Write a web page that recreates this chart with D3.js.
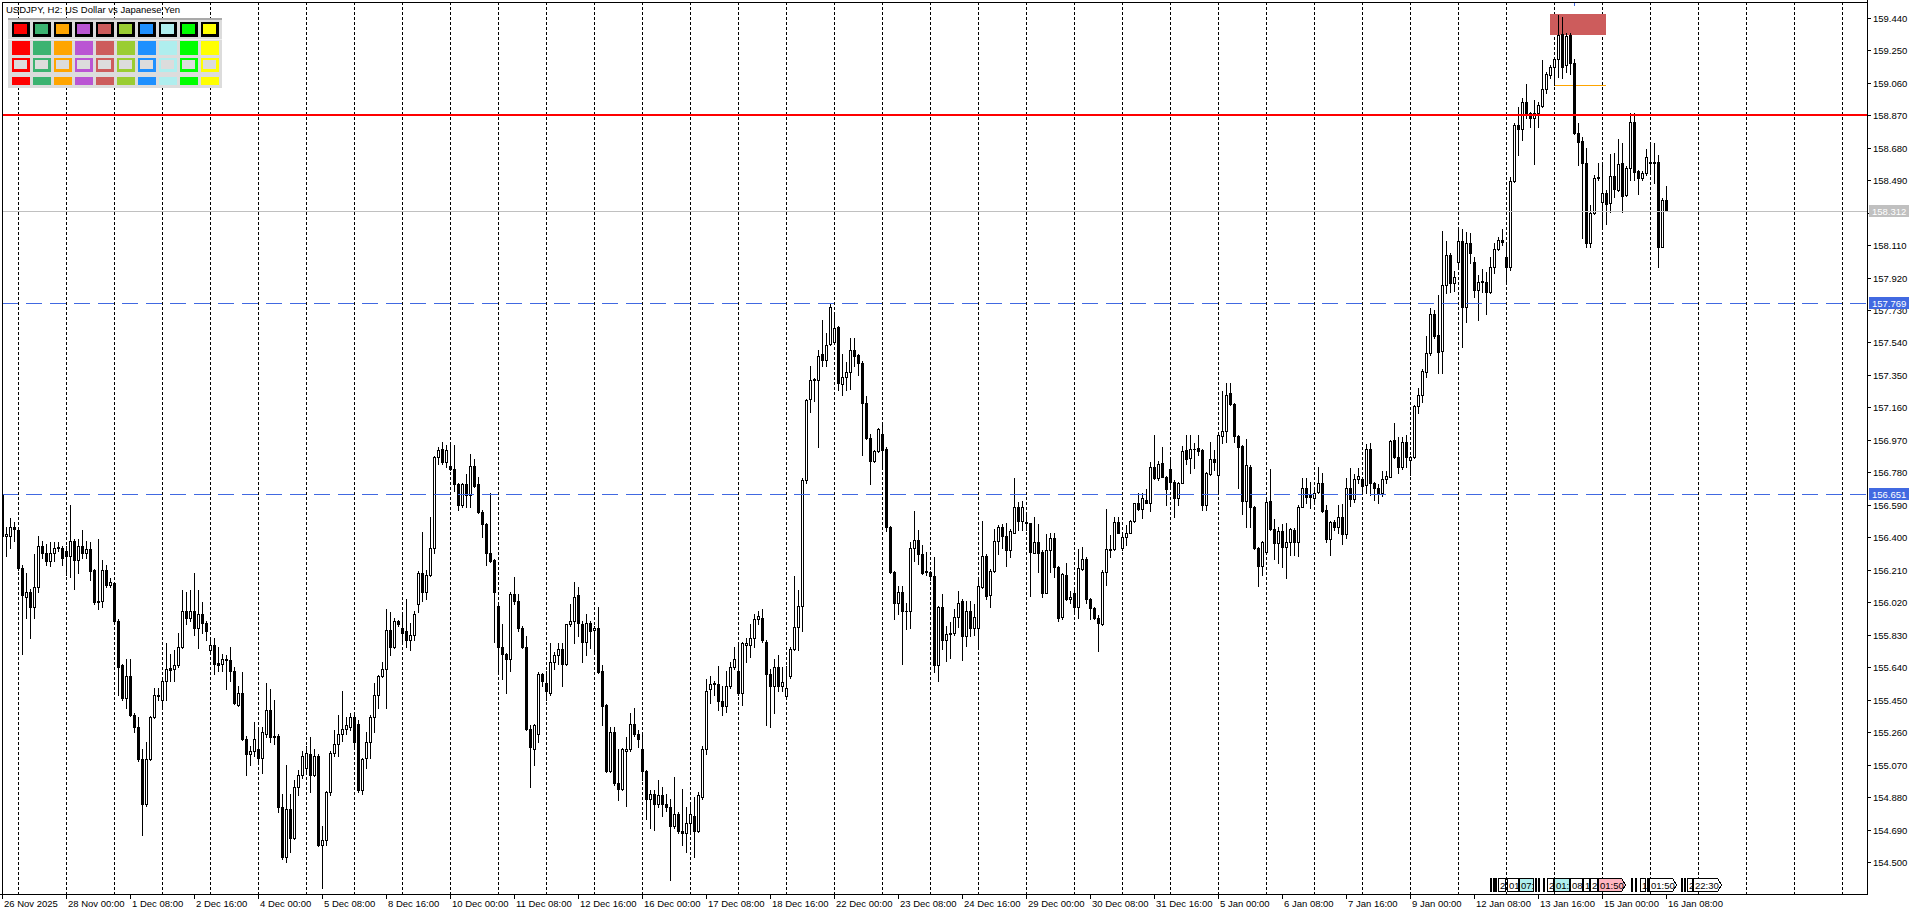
<!DOCTYPE html>
<html><head><meta charset="utf-8">
<script src="https://cdn.jsdelivr.net/npm/d3@7"></script>
<style>html,body{margin:0;padding:0;background:#fff;overflow:hidden}svg{display:block}
text{font-family:'Liberation Sans',Arial,sans-serif;}</style></head>
<body><svg id="c" width="1920" height="915"></svg>
<script>
const symbolTitle = "USDJPY, H2:  US Dollar vs Japanese Yen";
const opens = [
156.65,156.41,156.41,156.46,156.44,156.22,156.05,156.08,155.99,156.11,
156.35,156.31,156.26,156.31,156.34,156.34,156.32,156.29,156.38,156.27,
156.35,156.31,156.33,156.21,156.02,156.03,156.21,156.12,156.13,155.91,
155.65,155.46,155.59,155.36,155.29,155.10,154.84,155.10,155.35,155.48,
155.45,155.56,155.635,155.63,155.65,155.76,155.97,155.93,155.97,155.87,
155.95,155.90,155.74,155.77,155.665,155.66,155.69,155.68,155.62,155.42,
155.49,155.22,155.13,155.15,155.16,155.11,155.25,155.39,155.23,155.24,
154.82,154.53,154.81,154.64,154.94,155.01,155.05,155.13,155.01,155.12,
154.60,154.63,154.91,155.14,155.19,155.25,155.28,155.29,155.35,155.31,
154.92,155.11,155.20,155.35,155.48,155.59,155.63,155.86,155.76,155.91,
155.87,155.85,155.80,155.83,156.01,156.19,156.08,156.18,156.34,156.87,
156.915,156.84,156.82,156.80,156.71,156.59,156.71,156.65,156.82,156.71,
156.55,156.48,156.31,156.27,156.00,155.76,155.72,155.69,156.07,156.03,
155.87,155.76,155.28,155.16,155.25,155.60,155.55,155.49,155.67,155.71,
155.745,155.66,155.89,155.91,156.06,155.89,155.79,155.90,155.86,155.87,
155.62,155.42,155.03,155.26,154.96,154.93,155.15,155.16,155.31,155.25,
155.16,155.03,154.87,154.90,154.84,154.89,154.84,154.82,154.71,154.78,
154.68,154.67,154.73,154.77,154.68,154.88,155.16,155.51,155.545,155.54,
155.44,155.41,155.53,155.64,155.62,155.49,155.77,155.77,155.81,155.92,
155.93,155.79,155.60,155.53,155.64,155.53,155.47,155.59,155.745,155.875,
156.00,156.734,157.21,157.318,157.318,157.472,157.44,157.53,157.541,157.628,
157.297,157.338,157.367,157.494,157.467,157.418,157.183,156.98,156.848,156.904,
157.004,156.915,156.461,156.197,156.014,156.081,155.967,155.969,156.338,156.385,
156.304,156.204,156.197,156.175,155.651,155.991,155.801,155.841,155.839,155.935,
156.025,155.824,155.969,155.868,155.868,156.11,156.293,156.065,156.204,156.376,
156.461,156.405,156.327,156.427,156.579,156.498,156.492,156.482,156.31,156.375,
156.316,156.076,156.326,156.394,156.228,155.932,156.18,156.037,156.072,155.991,
156.213,156.271,156.037,155.985,155.926,155.893,156.197,156.326,156.33,156.492,
156.34,156.40,156.427,156.498,156.599,156.564,156.618,156.603,156.81,156.745,
156.833,156.755,156.798,156.726,156.632,156.72,156.911,156.862,156.917,156.921,
156.911,156.589,156.769,156.856,156.763,156.995,157.022,157.242,157.178,156.995,
156.934,156.615,156.813,156.58,156.336,156.232,156.316,156.613,156.447,156.365,
156.435,156.342,156.375,156.443,156.375,156.579,156.687,156.648,156.628,156.663,
156.716,156.56,156.388,156.492,156.462,156.517,156.42,156.687,156.622,156.739,
156.74,156.707,156.915,156.716,156.69,156.66,156.74,156.755,156.97,156.872,
156.81,156.96,156.853,156.868,157.169,157.233,157.37,157.477,157.707,157.584,
157.492,157.877,158.05,157.886,158.013,158.136,157.746,158.12,158.011,157.847,
157.894,157.896,157.838,157.98,158.085,158.14,158.038,157.98,158.487,158.813,
158.787,158.949,158.885,158.852,158.881,158.924,159.021,159.105,159.154,159.197,
159.345,159.164,159.339,159.173,158.764,158.719,158.592,158.124,158.296,158.506,
158.364,158.417,158.354,158.514,158.432,158.588,158.403,158.559,158.832,158.543,
158.501,158.53,158.596,158.596,158.596,158.101,158.374];
const highs = [
156.66,156.46,156.51,156.49,156.45,156.24,156.19,156.10,156.30,156.41,
156.38,156.36,156.37,156.37,156.37,156.35,156.35,156.59,156.39,156.39,
156.44,156.38,156.37,156.215,156.39,156.27,156.24,156.16,156.135,155.92,
155.66,155.69,155.69,155.37,155.35,155.16,155.20,155.355,155.52,155.52,
155.58,155.78,155.72,155.74,155.84,156.09,156.08,156.09,156.19,156.09,
156.02,155.91,155.81,155.81,155.76,155.72,155.71,155.76,155.64,155.53,
155.61,155.24,155.18,155.32,155.28,155.29,155.55,155.51,155.45,155.25,
154.90,155.07,154.90,154.98,155.04,155.15,155.18,155.23,155.16,155.13,
154.71,154.915,155.15,155.27,155.36,155.50,155.35,155.37,155.37,155.33,
155.11,155.26,155.36,155.55,155.595,155.67,155.98,155.96,155.93,155.915,
155.955,156.04,155.90,155.97,156.20,156.43,156.21,156.52,156.874,156.93,
156.96,156.94,156.94,156.94,156.72,156.72,156.77,156.89,156.86,156.755,
156.56,156.485,156.66,156.275,156.01,155.89,155.725,156.08,156.17,156.07,
155.88,155.82,155.30,155.305,155.61,155.605,155.62,155.78,155.73,155.78,
155.78,155.895,156.01,156.14,156.11,155.91,155.95,155.91,155.88,155.99,
155.65,155.425,155.29,155.29,155.16,155.165,155.23,155.37,155.40,155.27,
155.25,155.04,154.92,154.92,154.98,154.94,154.90,154.87,155.00,154.79,
154.93,154.82,154.84,154.88,154.91,155.18,155.57,155.59,155.56,155.645,
155.53,155.62,155.67,155.76,155.78,155.79,155.81,155.89,155.95,155.97,
155.98,155.80,155.63,155.69,155.71,155.64,155.645,155.757,156.175,156.092,
156.747,157.21,157.40,157.333,157.494,157.673,157.597,157.769,157.709,157.635,
157.472,157.423,157.566,157.568,157.47,157.434,157.226,157.002,156.908,157.042,
157.065,156.931,156.465,156.201,156.114,156.114,156.014,156.371,156.555,156.443,
156.354,156.316,156.204,156.287,155.996,156.07,155.879,155.902,155.98,156.085,
156.036,156.025,156.025,156.009,156.159,156.494,156.304,156.215,156.45,156.472,
156.479,156.483,156.45,156.745,156.609,156.615,156.531,156.486,156.521,156.478,
156.326,156.42,156.423,156.423,156.232,156.19,156.252,156.088,156.096,156.33,
156.342,156.287,156.043,155.994,155.946,156.209,156.564,156.414,156.521,156.521,
156.423,156.472,156.502,156.603,156.657,156.657,156.681,156.843,156.999,156.849,
156.93,156.759,156.856,156.735,156.726,156.934,156.999,156.999,156.95,156.999,
156.915,156.784,156.96,156.911,157.008,157.258,157.301,157.301,157.184,156.999,
156.94,156.973,156.823,156.583,156.342,156.381,156.618,156.798,156.505,156.462,
156.478,156.482,156.453,156.453,156.589,156.745,156.745,156.726,156.687,156.813,
156.778,156.589,156.498,156.502,156.589,156.595,156.745,156.804,156.771,156.804,
156.755,156.946,156.954,156.726,156.71,156.785,156.785,156.97,157.071,156.989,
156.989,156.999,156.876,157.175,157.272,157.383,157.578,157.74,157.73,157.818,
158.194,158.136,158.062,157.96,158.198,158.202,158.189,158.179,158.042,157.935,
157.968,157.955,158.042,158.12,158.159,158.202,158.12,158.51,158.822,158.916,
158.969,159.052,158.891,158.959,158.949,159.193,159.125,159.164,159.212,159.456,
159.442,159.353,159.349,159.197,158.826,158.744,158.676,158.345,158.52,158.592,
158.579,158.432,158.643,158.651,158.729,158.709,158.573,158.881,158.881,158.549,
158.545,158.67,158.705,158.709,158.637,158.384,158.456];
const lows = [
156.40,156.29,156.34,156.38,156.21,155.72,155.93,155.81,155.93,156.08,
156.28,156.24,156.23,156.26,156.32,156.24,156.18,156.17,156.10,156.19,
156.28,156.28,156.15,156.01,155.98,155.99,156.11,156.11,155.90,155.48,
155.45,155.40,155.355,155.26,155.09,154.66,154.83,155.095,155.345,155.45,
155.40,155.45,155.56,155.56,155.64,155.755,155.89,155.91,155.83,155.75,
155.84,155.80,155.72,155.60,155.62,155.62,155.51,155.56,155.425,155.415,
155.215,155.01,155.07,155.12,155.08,155.02,155.23,155.20,155.19,154.79,
154.52,154.50,154.56,154.635,154.89,154.99,155.02,154.91,155.005,154.595,
154.35,154.60,154.89,155.12,155.12,155.21,155.25,155.27,155.18,154.91,
154.90,155.05,155.11,155.26,155.40,155.58,155.40,155.71,155.75,155.88,
155.78,155.76,155.74,155.80,155.96,156.03,156.04,156.175,156.31,156.83,
156.83,156.81,156.795,156.67,156.56,156.58,156.58,156.58,156.695,156.54,
156.40,156.24,156.255,155.79,155.62,155.57,155.49,155.62,156.01,155.85,
155.75,155.27,154.94,155.07,155.20,155.53,155.45,155.48,155.63,155.66,
155.53,155.65,155.88,155.78,155.82,155.67,155.71,155.75,155.73,155.605,
155.30,155.025,155.025,154.95,154.86,154.92,154.83,155.15,155.24,155.17,
154.98,154.75,154.70,154.69,154.82,154.77,154.80,154.395,154.70,154.67,
154.60,154.56,154.68,154.53,154.675,154.87,155.13,155.43,155.48,155.39,
155.36,155.38,155.52,155.63,155.48,155.42,155.67,155.70,155.76,155.89,
155.79,155.30,155.29,155.37,155.50,155.50,155.455,155.578,155.74,155.74,
155.85,156.718,157.136,157.199,156.931,157.405,157.40,157.523,157.53,157.262,
157.232,157.262,157.27,157.40,157.351,156.881,156.975,156.711,156.841,156.897,
156.814,156.434,156.193,155.92,155.951,155.66,155.862,155.868,156.26,156.242,
156.188,156.181,156.148,155.611,155.562,155.745,155.674,155.696,155.83,155.875,
155.683,155.763,155.824,155.83,155.757,156.103,156.04,155.991,156.197,156.304,
156.338,156.233,156.282,156.423,156.443,156.443,156.443,156.057,156.306,156.199,
156.053,156.072,156.199,156.17,155.913,155.92,156.033,156.018,155.971,155.926,
156.209,156.018,155.92,155.92,155.737,155.887,156.121,156.287,156.326,156.423,
156.326,156.355,156.423,156.492,156.56,156.511,156.599,156.556,156.739,156.735,
156.751,156.589,156.697,156.517,156.589,156.716,156.829,156.775,156.804,156.882,
156.56,156.56,156.765,156.794,156.661,156.95,156.96,157.174,156.96,156.687,
156.537,156.462,156.462,156.33,156.115,156.18,156.31,156.443,156.271,156.248,
156.228,156.16,156.297,156.297,156.291,156.576,156.599,156.57,156.609,156.657,
156.55,156.375,156.297,156.443,156.423,156.361,156.394,156.583,156.609,156.72,
156.66,156.66,156.65,156.62,156.60,156.64,156.716,156.751,156.863,156.775,
156.798,156.814,156.765,156.863,157.126,157.194,157.34,157.467,157.565,157.364,
157.364,157.828,157.838,157.843,157.968,157.516,157.662,158.003,157.804,157.672,
157.838,157.707,157.828,157.945,158.081,158.111,157.896,157.964,158.481,158.637,
158.725,158.852,158.799,158.584,158.799,158.916,158.998,159.086,159.047,159.095,
159.086,159.125,159.111,158.76,158.579,158.15,158.101,158.101,158.292,158.491,
158.208,158.233,158.306,158.393,158.428,158.306,158.399,158.491,158.491,158.409,
158.491,158.52,158.54,158.471,157.98,158.097,158.311];
const closes = [
156.41,156.42,156.46,156.45,156.22,156.06,156.08,155.99,156.11,156.35,
156.31,156.26,156.31,156.34,156.345,156.28,156.29,156.38,156.27,156.35,
156.31,156.33,156.20,156.02,156.03,156.21,156.12,156.14,155.91,155.64,
155.46,155.59,155.36,155.29,155.10,154.84,155.10,155.35,155.48,155.47,
155.56,155.63,155.625,155.65,155.76,155.97,155.93,155.97,155.87,155.95,
155.90,155.85,155.77,155.66,155.655,155.69,155.68,155.62,155.43,155.49,
155.22,155.13,155.15,155.22,155.11,155.26,155.39,155.23,155.24,154.82,
154.53,154.81,154.64,154.94,155.01,155.12,155.14,155.01,155.12,154.60,
154.63,154.91,155.14,155.19,155.25,155.28,155.30,155.35,155.20,154.92,
155.10,155.20,155.35,155.48,155.59,155.63,155.86,155.76,155.91,155.89,
155.84,155.80,155.83,155.95,156.19,156.08,156.18,156.34,156.87,156.91,
156.84,156.91,156.80,156.71,156.59,156.71,156.65,156.82,156.70,156.55,
156.48,156.31,156.26,156.08,155.76,155.72,155.69,156.07,156.03,155.87,
155.76,155.28,155.17,155.30,155.60,155.56,155.50,155.67,155.71,155.745,
155.66,155.89,155.91,156.05,155.90,155.79,155.90,155.85,155.87,155.61,
155.41,155.03,155.26,154.96,154.93,155.16,155.16,155.31,155.25,155.22,
155.03,154.87,154.90,154.84,154.89,154.84,154.82,154.71,154.78,154.68,
154.67,154.73,154.78,154.68,154.89,155.16,155.50,155.54,155.54,155.44,
155.41,155.53,155.64,155.69,155.49,155.78,155.78,155.81,155.92,155.94,
155.80,155.60,155.53,155.64,155.53,155.555,155.52,155.745,155.875,155.996,
156.734,157.206,157.322,157.324,157.463,157.44,157.523,157.75,157.624,157.304,
157.338,157.367,157.494,157.463,157.418,157.183,156.98,156.846,156.904,157.036,
156.913,156.461,156.197,156.014,156.081,155.969,155.971,156.338,156.385,156.304,
156.193,156.199,156.175,155.651,155.991,155.801,155.835,155.837,155.935,156.018,
155.824,155.969,155.868,155.935,156.114,156.293,156.054,156.204,156.378,156.461,
156.405,156.327,156.434,156.579,156.498,156.579,156.482,156.316,156.375,156.31,
156.076,156.326,156.394,156.225,155.926,156.186,156.037,156.049,155.991,156.219,
156.271,156.037,155.985,155.926,155.897,156.197,156.33,156.332,156.492,156.427,
156.40,156.427,156.498,156.599,156.564,156.628,156.603,156.81,156.745,156.827,
156.755,156.681,156.726,156.628,156.72,156.907,156.856,156.915,156.919,156.907,
156.589,156.774,156.856,156.843,156.999,157.022,157.233,157.178,156.995,156.93,
156.615,156.823,156.576,156.336,156.232,156.375,156.609,156.447,156.365,156.435,
156.342,156.375,156.447,156.375,156.579,156.687,156.634,156.634,156.661,156.716,
156.556,156.388,156.492,156.462,156.517,156.42,156.687,156.622,156.739,156.759,
156.70,156.915,156.716,156.687,156.66,156.74,156.759,156.965,156.872,156.814,
156.96,156.868,156.868,157.169,157.233,157.373,157.477,157.707,157.578,157.487,
157.877,158.05,157.89,157.925,158.136,157.746,158.12,158.062,157.847,157.896,
157.898,157.838,157.98,158.085,158.14,158.126,157.98,158.487,158.813,158.787,
158.949,158.885,158.852,158.881,158.93,159.021,159.109,159.15,159.197,159.339,
159.154,159.333,159.173,158.764,158.715,158.592,158.124,158.296,158.501,158.501,
158.417,158.348,158.514,158.436,158.584,158.397,158.559,158.832,158.54,158.501,
158.53,158.627,158.588,158.588,158.101,158.374,158.312];

// time axis labels, one every 16 bars (32 h of H2 bars)
const timeLabels = ["26 Nov 2025","28 Nov 00:00","1 Dec 08:00","2 Dec 16:00","4 Dec 00:00","5 Dec 08:00","8 Dec 16:00","10 Dec 00:00","11 Dec 08:00","12 Dec 16:00","16 Dec 00:00","17 Dec 08:00","18 Dec 16:00","22 Dec 00:00","23 Dec 08:00","24 Dec 16:00","29 Dec 00:00","30 Dec 08:00","31 Dec 16:00","5 Jan 00:00","6 Jan 08:00","7 Jan 16:00","9 Jan 00:00","12 Jan 08:00","13 Jan 16:00","15 Jan 00:00","16 Jan 08:00"];
const priceTicks = [154.500,154.690,154.880,155.070,155.260,155.450,155.640,155.830,156.020,156.210,156.400,156.590,156.780,156.970,157.160,157.350,157.540,157.730,157.920,158.110,158.300,158.490,158.680,158.870,159.060,159.250,159.440];
const redLevel = 158.870;
const bidLevel = 158.312;
const blueLevels = [157.769, 156.651];
const zoneBars = [387, 401];
const zonePrices = [159.339, 159.462];
const orangeBars = [388, 401];
const orangePrice = 159.045;
const eventBoxes = [
  {b:372.0,t:"",w:1,c:"#fff"},{b:372.7,t:"",w:1,c:"#fff"},{b:373.3,t:"",w:1,c:"#fff"},
  {b:374.0,t:"2",w:7,c:"#fff"},{b:376.3,t:"01",w:11,c:"#fff"},{b:379.2,t:"07:",w:14,c:"#AFEEEE"},
  {b:383.2,t:"",w:1,c:"#fff"},{b:384.0,t:"",w:1,c:"#fff"},{b:385.2,t:"",w:1,c:"#fff"},
  {b:386.3,t:"2",w:6,c:"#fff"},{b:388.0,t:"01:",w:15,c:"#AFEEEE"},{b:391.9,t:"08",w:12,c:"#fff"},
  {b:395.3,t:"1",w:6,c:"#fff"},{b:397.0,t:"2",w:7,c:"#fff"},{b:399.0,t:"01:50",w:27,c:"#FFB6C1",arrow:1},
  {b:407.2,t:"",w:1,c:"#AFEEEE"},{b:408.2,t:"",w:1,c:"#fff"},{b:409.5,t:"1",w:5,c:"#fff"},{b:411.2,t:"",w:1,c:"#fff"},
  {b:411.8,t:"01:50",w:27,c:"#fff",arrow:1},
  {b:419.8,t:"",w:1,c:"#fff"},{b:420.5,t:"",w:1,c:"#fff"},{b:421.3,t:"2",w:5,c:"#fff"},{b:422.8,t:"22:30",w:28,c:"#fff",arrow:1}
];

const W = 1920, H = 915;
const L = 2, R = 1867, T = 2, B = 894;
const x = d3.scaleLinear().domain([0, 416]).range([2, 1666]);
const y = d3.scaleLinear().domain([154.5, 159.44]).range([862, 17.75]);
const svg = d3.select('#c');
svg.append('rect').attr('width', W).attr('height', H).attr('fill', '#fff');
svg.append('defs').append('clipPath').attr('id', 'pc').append('rect')
  .attr('x', L).attr('y', T).attr('width', R - L).attr('height', B - T);
const g = svg.append('g').attr('clip-path', 'url(#pc)').attr('shape-rendering', 'crispEdges');

// day grid (every 12 bars, midnight), also into the empty future area
const gridBars = d3.range(4, 470, 12).filter(b => x(b) < R);
g.selectAll('line.grid').data(gridBars).join('line')
  .attr('x1', b => Math.round(x(b)) + 0.5).attr('x2', b => Math.round(x(b)) + 0.5)
  .attr('y1', T).attr('y2', B).attr('stroke', '#000').attr('stroke-width', 1)
  .attr('stroke-dasharray', '3,2');

// background objects: zone rectangle & orange line
g.append('rect').attr('x', x(zoneBars[0])).attr('width', x(zoneBars[1]) - x(zoneBars[0]))
  .attr('y', Math.round(y(zonePrices[1]))).attr('height', Math.round(y(zonePrices[0])) - Math.round(y(zonePrices[1])))
  .attr('fill', '#CD5C5C');
g.append('line').attr('x1', x(orangeBars[0])).attr('x2', x(orangeBars[1]))
  .attr('y1', Math.round(y(orangePrice)) + 0.5).attr('y2', Math.round(y(orangePrice)) + 0.5)
  .attr('stroke', '#FFA500').attr('stroke-width', 1);

// candles
const bars = opens.map((o, i) => ({i, o, h: highs[i], l: lows[i], c: closes[i]}));
const cg = g.append('g');
bars.forEach(d => {
  const cx = Math.round(x(d.i));
  const hi = Math.max(d.h, d.o, d.c), lo = Math.min(d.l, d.o, d.c);
  const yh = Math.round(y(hi)), yl = Math.round(y(lo));
  cg.append('line').attr('x1', cx + 0.5).attr('x2', cx + 0.5).attr('y1', yh).attr('y2', yl + 1)
    .attr('stroke', '#000').attr('stroke-width', 1);
  const yo = Math.round(y(d.o)), yc = Math.round(y(d.c));
  const top = Math.min(yo, yc), bot = Math.max(yo, yc);
  if (bot - top < 1) {
    cg.append('line').attr('x1', cx - 1).attr('x2', cx + 2).attr('y1', top + 0.5).attr('y2', top + 0.5)
      .attr('stroke', '#000').attr('stroke-width', 1);
  } else {
    cg.append('rect').attr('x', cx - 0.5).attr('width', 2).attr('y', top + 0.5).attr('height', bot - top)
      .attr('fill', d.c >= d.o ? '#fff' : '#000').attr('stroke', '#000').attr('stroke-width', 1);
  }
});

// horizontal levels
g.append('line').attr('x1', L).attr('x2', R).attr('y1', Math.round(y(bidLevel)) + 0.5).attr('y2', Math.round(y(bidLevel)) + 0.5)
  .attr('stroke', '#C0C0C0').attr('stroke-width', 1);
blueLevels.forEach(v => {
  g.append('line').attr('x1', L).attr('x2', R).attr('y1', Math.round(y(v)) + 0.5).attr('y2', Math.round(y(v)) + 0.5)
    .attr('stroke', '#4169E1').attr('stroke-width', 1).attr('stroke-dasharray', '16,8');
});
g.append('line').attr('x1', L).attr('x2', R).attr('y1', Math.round(y(redLevel))).attr('y2', Math.round(y(redLevel)))
  .attr('stroke', '#FF0000').attr('stroke-width', 2);
g.append('line').attr('x1', 1574.5).attr('x2', 1574.5).attr('y1', T).attr('y2', T + 4).attr('stroke', '#4169E1');

// event labels near bottom
const eg = g.append('g');
eventBoxes.forEach(e => {
  const ex = Math.round(x(e.b)) + 0.5, ey = 878.5, eh = 13;
  if (e.arrow) {
    const p = `M${ex},${ey}H${ex + e.w - 4}L${ex + e.w},${ey + eh / 2}L${ex + e.w - 4},${ey + eh}H${ex}Z`;
    eg.append('path').attr('d', p).attr('fill', e.c).attr('stroke', '#000').attr('stroke-width', 1);
  } else {
    eg.append('rect').attr('x', ex).attr('y', ey).attr('width', e.w).attr('height', eh)
      .attr('fill', e.c).attr('stroke', '#000').attr('stroke-width', 1);
  }
  if (e.t) eg.append('text').attr('x', ex + 1.5).attr('y', ey + 10).attr('font-size', 9.5).attr('fill', '#000').text(e.t);
});

// frame & axes
const ax = svg.append('g').attr('shape-rendering', 'crispEdges');
ax.append('line').attr('x1', L + 0.5).attr('x2', L + 0.5).attr('y1', T).attr('y2', B).attr('stroke', '#000');
ax.append('line').attr('x1', L).attr('x2', R).attr('y1', T + 0.5).attr('y2', T + 0.5).attr('stroke', '#000');
ax.append('line').attr('x1', R + 0.5).attr('x2', R + 0.5).attr('y1', 0).attr('y2', B + 1).attr('stroke', '#000');
ax.append('line').attr('x1', 0).attr('x2', R + 1).attr('y1', B + 0.5).attr('y2', B + 0.5).attr('stroke', '#000');

const fmt = d3.format('.3f');
priceTicks.forEach(v => {
  const yy = Math.round(y(v)) + 0.5;
  ax.append('line').attr('x1', R).attr('x2', R + 4).attr('y1', yy).attr('y2', yy).attr('stroke', '#000');
  svg.append('text').attr('x', R + 6).attr('y', yy + 3.5).attr('font-size', 9.5).attr('fill', '#000').text(fmt(v));
});
timeLabels.forEach((t, i) => {
  const xx = Math.round(x(i * 16)) + 0.5;
  ax.append('line').attr('x1', xx).attr('x2', xx).attr('y1', B).attr('y2', B + 5).attr('stroke', '#000');
  svg.append('text').attr('x', xx + 1.5).attr('y', 907).attr('font-size', 9.5).attr('fill', '#000').text(t);
});

// price tags
function tag(v, fill) {
  const yy = Math.round(y(v));
  svg.append('rect').attr('x', R + 2).attr('y', yy - 6).attr('width', 40).attr('height', 12).attr('fill', fill);
  svg.append('text').attr('x', R + 5).attr('y', yy + 3.5).attr('font-size', 9.5).attr('fill', '#fff').text(fmt(v));
}
tag(bidLevel, '#C0C0C0');
blueLevels.forEach(v => tag(v, '#4169E1'));

// title
svg.append('text').attr('x', 6).attr('y', 13).attr('font-size', 9.5).attr('fill', '#000').text(symbolTitle);

// color palette panel
const palette = ['#FF0000','#3CB371','#FFA500','#BA55D3','#CD5C5C','#9ACD32','#1E90FF','#AFEEEE','#00FF00','#FFFF00'];
const pg = svg.append('g').attr('shape-rendering', 'crispEdges');
pg.append('rect').attr('x', 8).attr('y', 18).attr('width', 214).attr('height', 70).attr('fill', '#DCDCDC');
pg.append('rect').attr('x', 8).attr('y', 18).attr('width', 214).attr('height', 2).attr('fill', '#A9A9A9');
pg.append('rect').attr('x', 8).attr('y', 39).attr('width', 214).attr('height', 1).attr('fill', '#F0F0F0');
palette.forEach((c, i) => {
  const px = 12 + 21 * i;
  pg.append('rect').attr('x', px).attr('y', 22).attr('width', 18).attr('height', 15).attr('fill', '#000');
  pg.append('rect').attr('x', px + 2).attr('y', 24).attr('width', 13).attr('height', 10).attr('fill', c);
  pg.append('rect').attr('x', px).attr('y', 41).attr('width', 18).attr('height', 14).attr('fill', c);
  pg.append('rect').attr('x', px).attr('y', 58).attr('width', 18).attr('height', 14).attr('fill', c);
  pg.append('rect').attr('x', px + 2).attr('y', 60).attr('width', 13).attr('height', 9).attr('fill', '#DCDCDC');
  pg.append('rect').attr('x', px).attr('y', 77).attr('width', 18).attr('height', 8).attr('fill', c);
});
</script></body></html>
